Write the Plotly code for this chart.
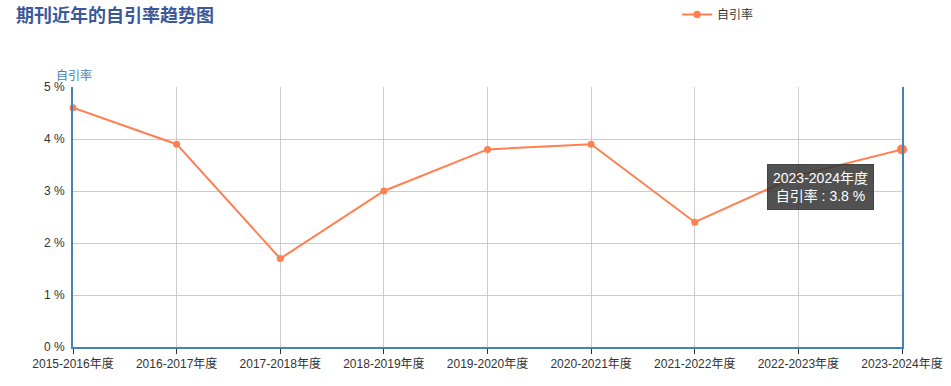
import plotly.graph_objects as go

categories = ["2015-2016年度", "2016-2017年度", "2017-2018年度", "2018-2019年度",
              "2019-2020年度", "2020-2021年度", "2021-2022年度", "2022-2023年度",
              "2023-2024年度"]
self_cite_rate = [4.6, 3.9, 1.7, 3.0, 3.8, 3.9, 2.4, 3.3, 3.8]
y_ticks = [0, 1, 2, 3, 4, 5]
y_tick_labels = ["0 %", "1 %", "2 %", "3 %", "4 %", "5 %"]
series_name = "自引率"
title_text = "期刊近年的自引率趋势图"
hover_idx = 8

FONT = "Arial, 'Liberation Sans', 'Noto Sans CJK SC', sans-serif"
LINE_COLOR = "#FF7F50"
AXIS_COLOR = "#4682B4"

marker_sizes = [7] * len(categories)
marker_sizes[hover_idx] = 10

fig = go.Figure()
fig.add_trace(go.Scatter(
    x=categories, y=self_cite_rate, mode="lines+markers", name=series_name,
    line=dict(color=LINE_COLOR, width=2),
    marker=dict(color=LINE_COLOR, size=marker_sizes, opacity=1,
                line=dict(width=0)),
    cliponaxis=False,
))

fig.add_annotation(
    x=categories[hover_idx], y=self_cite_rate[hover_idx], xref="x", yref="y",
    text=f"{categories[hover_idx]}<br>{series_name} : {self_cite_rate[hover_idx]} %",
    showarrow=False, xanchor="center", yanchor="middle",
    xshift=-82, yshift=-38,
    bgcolor="rgba(50,50,50,0.85)", bordercolor="rgba(50,50,50,0.85)",
    borderpad=5, font=dict(color="white", size=14, family=FONT), align="center",
)

fig.add_annotation(
    text=series_name, xref="paper", yref="paper", x=0, y=1, xshift=-19, yshift=2,
    xanchor="left", yanchor="bottom", showarrow=False,
    font=dict(color=AXIS_COLOR, size=12, family=FONT),
)

fig.update_layout(
    width=951, height=386,
    margin=dict(l=73, r=49, t=87, b=39),
    paper_bgcolor="white", plot_bgcolor="white",
    font=dict(family=FONT, size=12, color="#333"),
    title=dict(text=f"<b>{title_text}</b>", x=0, xref="container", xanchor="left",
               y=1, yref="container", yanchor="top", pad=dict(l=16, t=9),
               font=dict(size=18, color="#3B5998", family=FONT)),
    showlegend=True,
    legend=dict(orientation="h", x=0.712, xref="container", y=1, yref="container",
                yanchor="top", xanchor="left", font=dict(size=12, color="#333"),
                itemwidth=30, bgcolor="rgba(0,0,0,0)"),
    xaxis=dict(type="category", range=[0, len(categories) - 1], automargin=False,
               showgrid=True, gridcolor="#cccccc", gridwidth=1,
               showline=True, linecolor=AXIS_COLOR, linewidth=2,
               ticks="outside", ticklen=5, tickcolor="#333",
               tickfont=dict(size=12, color="#333"), zeroline=False),
    yaxis=dict(range=[0, 5], tickvals=y_ticks, ticktext=y_tick_labels, automargin=False,
               showgrid=True, gridcolor="#cccccc", gridwidth=1,
               showline=True, linecolor=AXIS_COLOR, linewidth=2, mirror=True,
               tickfont=dict(size=12, color="#333"), zeroline=False,
               ticklabelstandoff=4),
)

fig.write_html("out.html", config={"displayModeBar": False},
               post_script="document.body.style.margin='0';document.body.style.overflow='hidden';")
